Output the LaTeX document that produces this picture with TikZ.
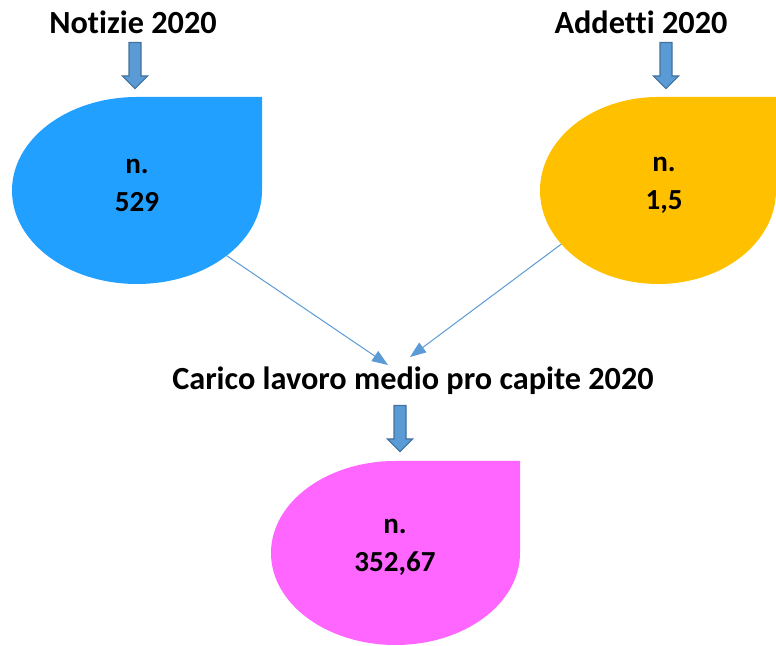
\documentclass[tikz,border=0pt]{standalone}
\usepackage{fontspec}
\setmainfont{Carlito}[Ligatures=NoCommon]
\usetikzlibrary{shapes.geometric,shapes.arrows,arrows.meta}
\definecolor{dropblue}{HTML}{21A0FF}
\definecolor{dropyellow}{HTML}{FFC000}
\definecolor{droppink}{HTML}{FF66FF}
\definecolor{arrowfill}{HTML}{5B9BD5}
\definecolor{arrowline}{HTML}{41719C}
\tikzset{
  title/.style={font=\bfseries\fontsize{24.2}{28}\selectfont},
  valtext/.style={align=center, font=\bfseries\fontsize{21.8}{28.5}\selectfont},
  drop/.style={ellipse, inner sep=0pt, outer sep=0pt},
  blockarrow/.style={single arrow, draw=arrowline, fill=arrowfill, line width=0.8pt, rotate=-90, anchor=tail,
    inner xsep=0pt, inner ysep=4.1pt, single arrow head extend=4.9pt, single arrow head indent=0pt, minimum height=34.5pt},
  conn/.style={draw=arrowfill, line width=0.75pt, -{Triangle[length=12pt,width=9pt]}}
}
\begin{document}
\begin{tikzpicture}[x=0.75pt, y=0.75pt]
\useasboundingbox (0,0) rectangle (776,646);

% titles
\node[title] at (133,624) (notizie) {Notizie 2020};
\node[title] at (641,624) (addetti) {Addetti 2020};
\node[title] at (413,265) (carico) {Carico lavoro medio pro capite 2020};

% block arrows
\node[blockarrow] at (135,604) (inA) {};
\node[blockarrow] at (666,604) (inB) {};
\node[blockarrow] at (400,241) (outC) {};

% drops
\node[drop, minimum width=187.5pt, minimum height=140.25pt] at (137,455.5) (dropA) {};
\fill[dropblue] (dropA.north) -- (dropA.east |- dropA.north) -- (dropA.east) arc[start angle=0, end angle=-270, x radius=93.75pt, y radius=70.125pt];
\node[drop, minimum width=177pt, minimum height=140.25pt] at (658,455.5) (dropB) {};
\fill[dropyellow] (dropB.north) -- (dropB.east |- dropB.north) -- (dropB.east) arc[start angle=0, end angle=-270, x radius=88.5pt, y radius=70.125pt];
\node[drop, minimum width=186.75pt, minimum height=138pt] at (395.5,93) (dropC) {};
\fill[droppink] (dropC.north) -- (dropC.east |- dropC.north) -- (dropC.east) arc[start angle=0, end angle=-270, x radius=93.375pt, y radius=69pt];

\node[valtext] at (137,461) (valA) {n.\\529};
\node[valtext] at (664,461) (valB) {n.\\1,5};
\node[valtext] at (395,98.5) (valC) {n.\\352,67};

% connectors
\coordinate (tipA) at (388,281);
\coordinate (tipB) at (410,289);
\draw[conn] (dropA.-36) -- (tipA);
\draw[conn] (dropB.209) -- (tipB);
\end{tikzpicture}
\end{document}
